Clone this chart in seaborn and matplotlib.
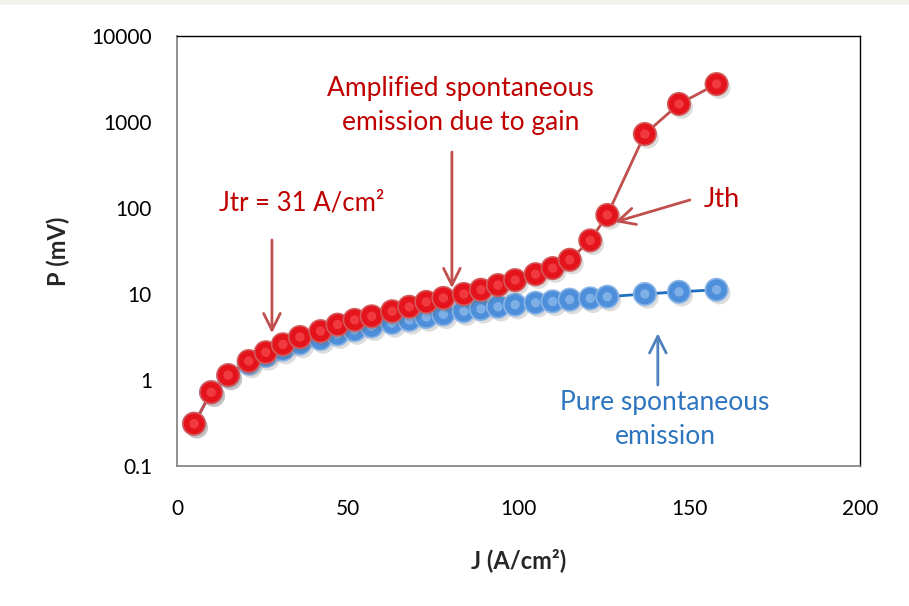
import matplotlib
matplotlib.use("Agg")
import matplotlib.pyplot as plt
import matplotlib.patheffects as pe
from matplotlib.patches import Rectangle
import numpy as np
import pandas as pd
import seaborn as sns

# Current density (A/cm^2) and output power (mV)
current_density = [5, 10, 15, 21, 26, 31, 36, 42, 47, 52, 57, 63, 68, 73, 78,
                   84, 89, 94, 99, 105, 110, 115, 121, 126, 137, 147, 158]
power_amplified = [0.31, 0.72, 1.14, 1.66, 2.1, 2.6, 3.16, 3.7, 4.4, 5.0, 5.5,
                   6.3, 7.1, 8.1, 9.0, 10.0, 11.2, 12.7, 14.5, 17.0, 20.0, 25.0,
                   42.0, 83.0, 725.0, 1620.0, 2760.0]
power_spontaneous = [0.31, 0.72, 1.12, 1.55, 1.9, 2.25, 2.65, 3.0, 3.4, 3.8,
                     4.2, 4.6, 5.0, 5.4, 5.8, 6.3, 6.7, 7.1, 7.5, 7.9, 8.2, 8.6,
                     8.9, 9.3, 10.0, 10.6, 11.2]
y_ticks = [0.1, 1, 10, 100, 1000, 10000]
y_tick_labels = ["0.1", "1", "10", "100", "1000", "10000"]
x_ticks = [0, 50, 100, 150, 200]

df = pd.DataFrame({"J": current_density,
                   "amp": power_amplified,
                   "spont": power_spontaneous})

sns.set_theme(style="white")
plt.rcParams["font.family"] = ["Lato", "DejaVu Sans"]

fig = plt.figure(figsize=(9.09, 6.06), dpi=100)
fig.patch.set_facecolor("white")
fig.patches.append(Rectangle((0, 1 - 5 / 606), 1, 5 / 606, transform=fig.transFigure,
                             facecolor="#f3f1ec", edgecolor="none", zorder=0))
ax = fig.add_axes([177 / 909, 1 - 466 / 606, (860 - 177) / 909, (466 - 36) / 606])

shadow = [pe.SimplePatchShadow(offset=(2, -2.5), shadow_rgbFace="#666666", alpha=0.22),
          pe.Normal()]

RED_LINE = "#c0504d"
BLUE_LINE = "#1f6fc0"


def glossy_series(col, line_color, base, edge, shine, z):
    sns.lineplot(data=df, x="J", y=col, ax=ax, color=line_color, lw=2,
                 zorder=z, legend=False)
    pts = sns.scatterplot(data=df, x="J", y=col, ax=ax, s=260, color=base,
                          edgecolor=edge, linewidth=1.2, zorder=z + 1, legend=False)
    pts.collections[-1].set_path_effects(shadow)
    sns.scatterplot(data=df, x="J", y=col, ax=ax, s=45, color=shine,
                    edgecolor="none", alpha=0.45, zorder=z + 2, legend=False)


glossy_series("spont", BLUE_LINE, "#4d8fda", "#8ab4e6", "#bcd8f5", 2)
glossy_series("amp", RED_LINE, "#e5141c", "#d25a5a", "#ff6a6a", 6)

ax.set_yscale("log")
ax.set_ylim(0.1, 10000)
ax.set_xlim(0, 200)
ax.set_yticks(y_ticks)
ax.set_yticklabels(y_tick_labels)
ax.minorticks_off()
ax.set_xticks(x_ticks)
ax.tick_params(axis="both", labelsize=15, colors="black", length=6, width=1,
               direction="out")
ax.tick_params(axis="x", pad=18)
ax.tick_params(axis="y", pad=12)
ax.tick_params(axis="both", color="#888888")
for side in ["left", "bottom"]:
    ax.spines[side].set_color("#888888")
    ax.spines[side].set_linewidth(1.3)
for side in ["top", "right"]:
    ax.spines[side].set_color("black")
    ax.spines[side].set_linewidth(1.0)

ax.set_xlabel("J (A/cm²)", fontsize=17, fontweight="bold", labelpad=21)
ax.set_ylabel("P (mV)", fontsize=17, fontweight="bold", labelpad=15)

TXT_RED = "#c00000"
TXT_BLUE = "#2e75c0"
arrow_red = dict(arrowstyle="->,head_width=0.5,head_length=1.0", color=RED_LINE,
                 lw=2, shrinkA=0, shrinkB=0)
arrow_blue = dict(arrowstyle="->,head_width=0.5,head_length=1.0", color="#4f81bd",
                  lw=2, shrinkA=0, shrinkB=0)

ax.text(83, 1560, "Amplified spontaneous\nemission due to gain", color=TXT_RED,
        fontsize=19, ha="center", va="center", linespacing=1.45, zorder=10)
ax.annotate("", xy=(80.5, 11.7), xytext=(80.5, 447), arrowprops=arrow_red, zorder=10)

ax.text(36.6, 114, "Jtr = 31 A/cm²", color=TXT_RED, fontsize=18.5,
        ha="center", va="center", zorder=10)
ax.annotate("", xy=(27.8, 3.5), xytext=(27.8, 42.5), arrowprops=arrow_red, zorder=10)

ax.text(159.5, 125, "Jth", color=TXT_RED, fontsize=19.5, ha="center", va="center",
        zorder=10)
ax.annotate("", xy=(128.3, 68.7), xytext=(150.2, 124), arrowprops=arrow_red, zorder=10)

ax.text(142.9, 0.35, "Pure spontaneous\nemission", color=TXT_BLUE, fontsize=19,
        ha="center", va="center", linespacing=1.45, zorder=10)
ax.annotate("", xy=(140.8, 3.5), xytext=(140.8, 0.875), arrowprops=arrow_blue, zorder=10)

fig.savefig("out.png", dpi=100, facecolor=fig.get_facecolor())
